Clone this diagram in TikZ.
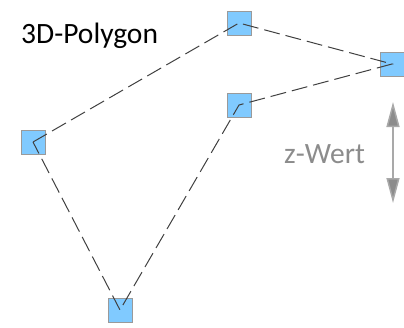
\documentclass[tikz,border=0pt]{standalone}
\usepackage{fontspec}
\setmainfont{Carlito}
\usetikzlibrary{arrows.meta}
\definecolor{boxblue}{HTML}{80CAFF}
\definecolor{boxline}{HTML}{9A9A9A}
\definecolor{edgegray}{HTML}{404040}
\definecolor{textgray}{HTML}{8C8C8C}
\tikzset{
  vertex/.style={draw=boxline, line width=1pt, fill=boxblue, minimum size=24pt, inner sep=0pt},
  edge/.style={draw=edgegray, line width=1pt, dash pattern=on 16pt off 6pt}
}
\begin{document}
\begin{tikzpicture}[x=1pt,y=-1pt]
\useasboundingbox (0,0) rectangle (404,327);
% Eckpunkte
\node[vertex] (pleft) at (33,142) {};
\node[vertex] (ptop) at (239,23) {};
\node[vertex] (pright) at (392,64) {};
\node[vertex] (pmid) at (239,105) {};
\node[vertex] (pbottom) at (120,310) {};
% Kanten
\draw[edge] (pleft.center) -- (ptop.center) -- (pright.center) -- (pmid.center) -- (pbottom.center) -- cycle;
% Beschriftung
\node[anchor=base west, inner sep=0pt, font=\fontsize{29.5}{34}\selectfont] (title) at (21,43) {3D-Polygon};
\node[anchor=base west, inner sep=0pt, font=\fontsize{29.5}{34}\selectfont, text=textgray] (zlabel) at (284,163) {z-Wert};
\coordinate (ztop) at (393,102);
\coordinate (zbot) at (393,203);
\draw[textgray!75, line width=1.5pt, {Triangle[length=25pt,width=13pt,fill=textgray]}-{Triangle[length=25pt,width=13pt,fill=textgray]}] (ztop) -- (zbot);
\end{tikzpicture}
\end{document}
